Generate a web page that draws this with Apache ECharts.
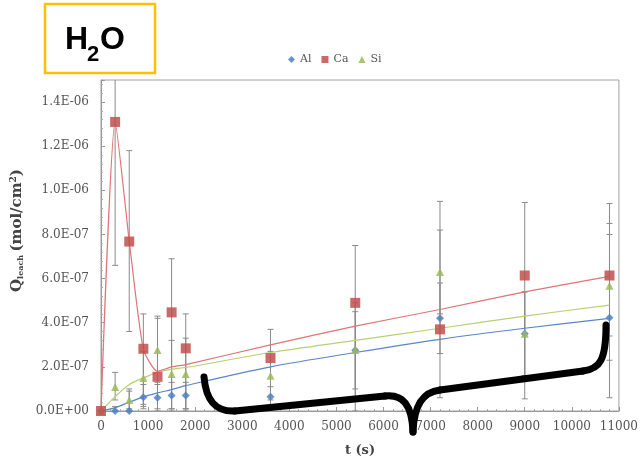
<!DOCTYPE html>
<html>
<head>
<meta charset="utf-8">
<script src="https://cdn.jsdelivr.net/npm/echarts@6/dist/echarts.min.js"></script>
<style>
  html, body { margin: 0; padding: 0; background: #fff; }
  #main { width: 641px; height: 468px; }
</style>
</head>
<body>
<div id="main"></div>
<script>
// sampling times (s)
let times = [0, 300, 600, 900, 1200, 1500, 1800, 3600, 5400, 7200, 9000, 10800]

// measured leach amounts (mol/cm2)
let alVals = [0, 0, 0, 6.2e-8, 6.0e-8, 7.0e-8, 7.0e-8, 6.5e-8, 2.75e-7, 4.2e-7, 3.5e-7, 4.23e-7]
let caVals = [0, 1.31e-6, 7.68e-7, 2.82e-7, 1.55e-7, 4.47e-7, 2.84e-7, 2.4e-7, 4.9e-7, 3.7e-7, 6.14e-7, 6.14e-7]
let siVals = [0, 1.09e-7, 5.0e-8, 1.5e-7, 2.77e-7, 1.68e-7, 1.68e-7, 1.6e-7, 2.77e-7, 6.3e-7, 3.5e-7, 5.68e-7]

// error bars (low / high)
let caLow  = [0, 6.6e-7, 3.6e-7, 2e-8, 0, 0, 0, 0, 0, 6e-8, 5.5e-8, 6e-8]
let caHigh = [0, 1.7e-6, 1.18e-6, 4.4e-7, 4.3e-7, 6.9e-7, 4.4e-7, 3.7e-7, 7.5e-7, 9.5e-7, 9.45e-7, 9.4e-7]
let siLow  = [0, 5e-8, 1e-8, 3e-8, 1.3e-7, 1e-8, 1e-8, 5e-8, 6e-8, 4.4e-7, 1.6e-7, 3.4e-7]
let siHigh = [0, 1.75e-7, 9e-8, 2.7e-7, 4.2e-7, 3.2e-7, 3.3e-7, 2.7e-7, 4.9e-7, 8.2e-7, 5.4e-7, 8.0e-7]
let alLow  = [0, 0, 0, 1e-8, 1e-8, 1e-8, 1e-8, 2e-8, 1e-7, 2.6e-7, 1.6e-7, 2.3e-7]
let alHigh = [0, 2e-8, 1e-7, 1.2e-7, 1.2e-7, 1.3e-7, 1.3e-7, 1.1e-7, 4.5e-7, 5.8e-7, 5.4e-7, 8.5e-7]

// model curves
let fitTimes = [0, 300, 600, 900, 1200, 1500, 1800, 3600, 5400, 7200, 9000, 10800]
let alFit = [0, 1.5e-8, 4e-8, 6.4e-8, 8.2e-8, 9.7e-8, 1.15e-7, 2.0e-7, 2.65e-7, 3.25e-7, 3.75e-7, 4.2e-7]
let caFit = [0, 1.31e-6, 7.7e-7, 2.8e-7, 1.8e-7, 2.0e-7, 2.1e-7, 3.0e-7, 3.85e-7, 4.6e-7, 5.4e-7, 6.1e-7]
let siFit = [0, 6.5e-8, 1.2e-7, 1.5e-7, 1.75e-7, 1.9e-7, 1.97e-7, 2.65e-7, 3.2e-7, 3.75e-7, 4.3e-7, 4.8e-7]

let serif = "'DejaVu Serif', 'Liberation Serif', serif"

function pairs(xs, ys) {
    return xs.map((x, i) => [x, ys[i]])
}

function bars(lo, hi) {
    return times.map((t, i) => [t, lo[i], hi[i]])
}

function sciLabel(v) {
    if (v === 0) return '0.0E+00'
    let s = v.toExponential(1).toUpperCase()
    let [m, e] = s.split('E')
    let sign = e[0] === '-' ? '-' : '+'
    let d = e.replace(/[+-]/, '')
    if (d.length < 2) d = '0' + d
    return m + 'E' + sign + d
}

// vertical error bar with small caps
function errorBar(params, api) {
    let x = api.value(0)
    let p1 = api.coord([x, api.value(1)])
    let p2 = api.coord([x, api.value(2)])
    let w = 3
    let st = { stroke: '#8a8a8a', lineWidth: 1 }
    return {
        type: 'group',
        children: [
            { type: 'line', shape: { x1: p1[0], y1: p1[1], x2: p2[0], y2: p2[1] }, style: st },
            { type: 'line', shape: { x1: p1[0] - w, y1: p1[1], x2: p1[0] + w, y2: p1[1] }, style: st },
            { type: 'line', shape: { x1: p2[0] - w, y1: p2[1], x2: p2[0] + w, y2: p2[1] }, style: st }
        ]
    }
}

// the hand drawn curly brace (annotation)
let braceStyle = { fill: null, stroke: '#000', lineWidth: 7, lineCap: 'round' }
function curve(a, b, c, d) {
    return {
        type: 'bezierCurve', z: 12, style: braceStyle,
        shape: { x1: a[0], y1: a[1], cpx1: b[0], cpy1: b[1], cpx2: c[0], cpy2: c[1], x2: d[0], y2: d[1] }
    }
}
function seg(a, b) {
    return { type: 'line', z: 12, style: braceStyle, shape: { x1: a[0], y1: a[1], x2: b[0], y2: b[1] } }
}

var myChart = echarts.init(document.getElementById('main'))

var option = {
    backgroundColor: '#fff',
    animation: false,
    grid: { left: 101, right: 17, top: 80, bottom: 57, show: true, borderColor: '#a0a0a0', borderWidth: 1 },
    legend: {
        data: [
            { name: 'Al', icon: 'diamond' },
            { name: 'Ca', icon: 'rect' },
            { name: 'Si', icon: 'triangle' }
        ],
        top: 49,
        left: 283,
        itemWidth: 7,
        itemHeight: 7,
        itemGap: 10,
        textStyle: { fontFamily: serif, fontSize: 11, color: '#555' }
    },
    xAxis: {
        type: 'value',
        min: 0,
        max: 11000,
        interval: 1000,
        name: 't (s)',
        nameLocation: 'middle',
        nameGap: 33,
        nameTextStyle: { fontFamily: serif, fontSize: 13, fontWeight: 'bold', color: '#444' },
        axisLine: { lineStyle: { color: '#999' } },
        axisTick: { inside: true, length: 4, lineStyle: { color: '#999' } },
        minorTick: { show: true, splitNumber: 5, length: 2, lineStyle: { color: '#aaa' } },
        splitLine: { show: false },
        axisLabel: { fontFamily: serif, fontSize: 12, color: '#555', margin: 10, formatter: v => String(v) }
    },
    yAxis: {
        type: 'value',
        min: 0,
        max: 1.5e-6,
        interval: 2e-7,
        name: '{b|Q}{s|leach} {b|(mol/cm}{sup|2}{b|)}',
        nameLocation: 'middle',
        nameGap: 74,
        nameTextStyle: {
            padding: [0, 0, 0, 30],
            rich: {
                b: { fontFamily: serif, fontSize: 15, fontWeight: 'bold', color: '#444' },
                s: { fontFamily: serif, fontSize: 8, fontWeight: 'bold', color: '#444', padding: [8, 0, 0, 0] },
                sup: { fontFamily: serif, fontSize: 9, fontWeight: 'bold', color: '#444', padding: [0, 0, 7, 0] }
            }
        },
        axisLine: { show: true, lineStyle: { color: '#999' } },
        axisTick: { show: true, inside: true, length: 4, lineStyle: { color: '#999' } },
        minorTick: { show: true, splitNumber: 5, length: 2, lineStyle: { color: '#aaa' } },
        splitLine: { show: false },
        axisLabel: { fontFamily: serif, fontSize: 12, color: '#555', margin: 12, showMaxLabel: false, formatter: sciLabel }
    },
    series: [
        { name: 'Al err', type: 'custom', renderItem: errorBar, data: bars(alLow, alHigh), clip: true, z: 1 },
        { name: 'Si err', type: 'custom', renderItem: errorBar, data: bars(siLow, siHigh), clip: true, z: 1 },
        { name: 'Ca err', type: 'custom', renderItem: errorBar, data: bars(caLow, caHigh), clip: true, z: 1 },
        {
            name: 'Al fit', type: 'line', data: pairs(fitTimes, alFit), smooth: 0.3, symbol: 'none',
            lineStyle: { color: '#5a86c8', width: 1.2 }, z: 2
        },
        {
            name: 'Si fit', type: 'line', data: pairs(fitTimes, siFit), smooth: 0.3, symbol: 'none',
            lineStyle: { color: '#b9d070', width: 1.2 }, z: 2
        },
        {
            name: 'Ca fit', type: 'line', data: pairs(fitTimes, caFit), smooth: 0.2, symbol: 'none',
            lineStyle: { color: '#e07476', width: 1.2 }, z: 2
        },
        {
            name: 'Al', type: 'scatter', data: pairs(times, alVals), symbol: 'diamond', symbolSize: 8,
            itemStyle: { color: '#4f81bd', opacity: 0.85 }, z: 3
        },
        {
            name: 'Si', type: 'scatter', data: pairs(times, siVals), symbol: 'triangle', symbolSize: 8,
            itemStyle: { color: '#9bbb59', opacity: 0.85 }, z: 3
        },
        {
            name: 'Ca', type: 'scatter', data: pairs(times, caVals), symbol: 'rect', symbolSize: 10,
            itemStyle: { color: '#c0504d', opacity: 0.85 }, z: 4
        }
    ],
    graphic: [
        {
            type: 'rect', shape: { x: 45, y: 4, width: 110, height: 69 },
            style: { fill: '#fff', stroke: '#ffc000', lineWidth: 2.5 }, z: 10
        },
        {
            type: 'text', x: 65, y: 24,
            style: { text: 'H', font: "bold 32px 'Liberation Sans', Arial, sans-serif", fill: '#000' }, z: 11
        },
        {
            type: 'text', x: 87, y: 44,
            style: { text: '2', font: "bold 22px 'Liberation Sans', Arial, sans-serif", fill: '#000' }, z: 11
        },
        {
            type: 'text', x: 100, y: 24,
            style: { text: 'O', font: "bold 32px 'Liberation Sans', Arial, sans-serif", fill: '#000' }, z: 11
        },
        curve([204, 377], [206, 400], [215, 412], [235, 411]),
        seg([235, 411], [385, 396]),
        curve([385, 396], [403, 394], [412, 405], [413, 432]),
        curve([413, 432], [414, 405], [423, 392], [440, 390]),
        seg([440, 390], [583, 371]),
        curve([583, 371], [600, 369], [606, 360], [606, 325])
    ]
}

myChart.setOption(option)
</script>
</body>
</html>
